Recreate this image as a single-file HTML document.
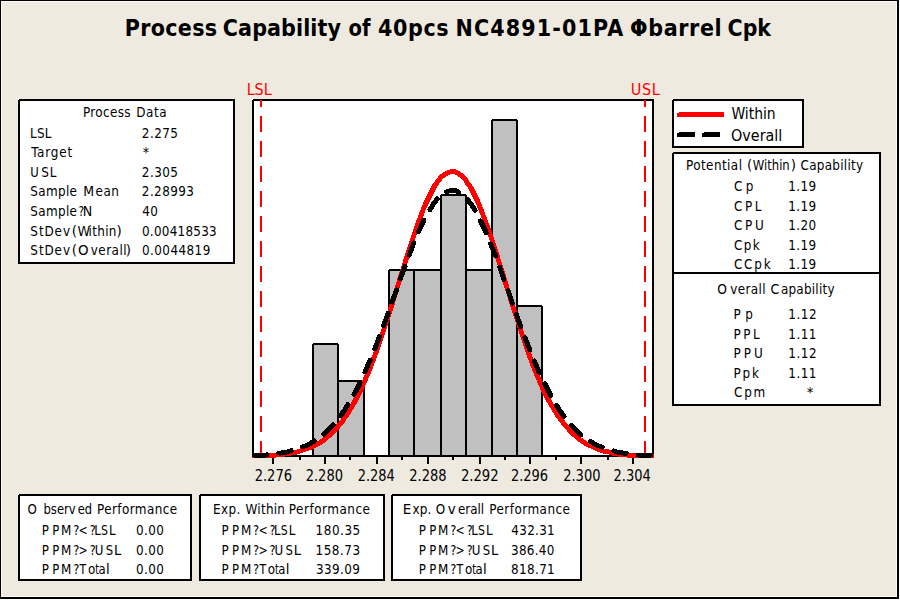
<!DOCTYPE html>
<html lang="en"><head><meta charset="utf-8"><title>Process Capability of 40pcs NC4891-01PA Φbarrel Cpk</title>
<style>html,body{margin:0;padding:0;background:#EEEAE0;overflow:hidden}svg{display:block}text{font-family:'DejaVu Sans Condensed','DejaVu Sans','Liberation Sans',sans-serif;white-space:pre}</style>
</head><body>
<svg width="900" height="600" viewBox="0 0 900 600">
<rect x="0" y="0" width="900" height="600" fill="#EEEAE0"/>
<g shape-rendering="crispEdges">
<rect x="1" y="1" width="896" height="1" fill="#FFFCF0"/>
<rect x="1" y="1" width="1" height="596" fill="#FFFCF0"/>
<rect x="1" y="596" width="896" height="1" fill="#FFFCF0"/>
<rect x="896" y="1" width="1" height="596" fill="#FFFCF0"/>
<rect x="0" y="0" width="899" height="1" fill="#000"/>
<rect x="0" y="0" width="1" height="599" fill="#000"/>
<rect x="897" y="0" width="2" height="599" fill="#000"/>
<rect x="0" y="597" width="899" height="2" fill="#000"/>
<rect x="899" y="0" width="1" height="600" fill="#fff"/>
<rect x="0" y="599" width="900" height="1" fill="#fff"/>
</g>
<text y="35.5" font-size="23" font-weight="bold"><tspan x="124.70" textLength="92.43" lengthAdjust="spacing">Process</tspan> <tspan x="222.83" textLength="118.18" lengthAdjust="spacing">Capability</tspan> <tspan x="348.51" textLength="21.95" lengthAdjust="spacingAndGlyphs">of</tspan> <tspan x="377.93" textLength="70.70" lengthAdjust="spacing">40pcs</tspan> <tspan x="455.45" textLength="167.79" lengthAdjust="spacing">NC4891-01PA</tspan> <tspan x="630.08" textLength="91.55" lengthAdjust="spacing">Φbarrel</tspan> <tspan x="727.59" textLength="43.41" lengthAdjust="spacingAndGlyphs">Cpk</tspan></text>
<g shape-rendering="crispEdges">
<rect x="253" y="100" width="400" height="356" fill="#fff" stroke="#000" stroke-width="2"/>
<rect x="313" y="344" width="25" height="112" fill="#C0C0C0" stroke="#000" stroke-width="2" stroke-linejoin="round"/>
<rect x="338" y="381" width="26" height="75" fill="#C0C0C0" stroke="#000" stroke-width="2" stroke-linejoin="round"/>
<rect x="389" y="270" width="25" height="186" fill="#C0C0C0" stroke="#000" stroke-width="2" stroke-linejoin="round"/>
<rect x="414" y="270" width="27" height="186" fill="#C0C0C0" stroke="#000" stroke-width="2" stroke-linejoin="round"/>
<rect x="441" y="195" width="25" height="261" fill="#C0C0C0" stroke="#000" stroke-width="2" stroke-linejoin="round"/>
<rect x="466" y="270" width="26" height="186" fill="#C0C0C0" stroke="#000" stroke-width="2" stroke-linejoin="round"/>
<rect x="492" y="120" width="25" height="336" fill="#C0C0C0" stroke="#000" stroke-width="2" stroke-linejoin="round"/>
<rect x="517" y="306" width="25" height="150" fill="#C0C0C0" stroke="#000" stroke-width="2" stroke-linejoin="round"/>
<rect x="312" y="343" width="1" height="1" fill="#fff"/>
<rect x="338" y="343" width="1" height="1" fill="#fff"/>
<rect x="364" y="380" width="1" height="1" fill="#fff"/>
<rect x="388" y="269" width="1" height="1" fill="#fff"/>
<rect x="440" y="194" width="1" height="1" fill="#fff"/>
<rect x="466" y="194" width="1" height="1" fill="#fff"/>
<rect x="491" y="119" width="1" height="1" fill="#fff"/>
<rect x="517" y="119" width="1" height="1" fill="#fff"/>
<rect x="542" y="305" width="1" height="1" fill="#fff"/>
<rect x="252" y="455" width="402" height="2" fill="#000"/>
<rect x="272" y="457" width="2" height="7" fill="#000"/>
<rect x="299" y="457" width="2" height="3" fill="#000"/>
<rect x="324" y="457" width="2" height="7" fill="#000"/>
<rect x="349" y="457" width="2" height="3" fill="#000"/>
<rect x="376" y="457" width="2" height="7" fill="#000"/>
<rect x="401" y="457" width="2" height="3" fill="#000"/>
<rect x="427" y="457" width="2" height="7" fill="#000"/>
<rect x="452" y="457" width="2" height="3" fill="#000"/>
<rect x="479" y="457" width="2" height="7" fill="#000"/>
<rect x="504" y="457" width="2" height="3" fill="#000"/>
<rect x="529" y="457" width="2" height="7" fill="#000"/>
<rect x="555" y="457" width="2" height="3" fill="#000"/>
<rect x="580" y="457" width="2" height="7" fill="#000"/>
<rect x="607" y="457" width="2" height="3" fill="#000"/>
<rect x="632" y="457" width="2" height="7" fill="#000"/>
</g>
<g shape-rendering="crispEdges">
<line x1="261" y1="100" x2="261" y2="457" stroke="#FF0000" stroke-width="2" stroke-dasharray="16 9" stroke-dashoffset="9"/>
<line x1="645" y1="100" x2="645" y2="457" stroke="#FF0000" stroke-width="2" stroke-dasharray="16 9" stroke-dashoffset="9"/>
</g>
<clipPath id="pc"><rect x="252" y="99" width="402" height="359"/></clipPath>
<g clip-path="url(#pc)" fill="none" shape-rendering="crispEdges">
<path d="M252,456 L255,456 L258,456 L261,456 L264,455 L267,455 L270,455 L273,455 L276,455 L279,454 L282,454 L285,454 L288,453 L291,453 L294,452 L297,452 L300,451 L303,450 L306,449 L309,448 L312,447 L315,445 L318,444 L321,442 L324,440 L327,437 L330,435 L333,432 L336,429 L339,425 L342,422 L345,417 L348,413 L351,408 L354,403 L357,397 L360,391 L363,385 L366,378 L369,371 L372,363 L375,355 L378,347 L381,338 L384,329 L387,320 L390,311 L393,301 L396,291 L399,282 L402,272 L405,263 L408,253 L411,244 L414,235 L417,226 L420,218 L423,210 L426,203 L429,197 L432,191 L435,185 L438,181 L441,177 L444,175 L447,173 L450,172 L453,171 L456,172 L459,174 L462,176 L465,179 L468,184 L471,188 L474,194 L477,200 L480,207 L483,215 L486,223 L489,231 L492,240 L495,249 L498,259 L501,268 L504,278 L507,288 L510,297 L513,307 L516,316 L519,325 L522,334 L525,343 L528,352 L531,360 L534,368 L537,375 L540,382 L543,389 L546,395 L549,401 L552,406 L555,411 L558,416 L561,420 L564,424 L567,427 L570,431 L573,434 L576,436 L579,439 L582,441 L585,443 L588,445 L591,446 L594,447 L597,449 L600,450 L603,451 L606,451 L609,452 L612,453 L615,453 L618,454 L621,454 L624,454 L627,455 L630,455 L633,455 L636,455 L639,455 L642,455 L645,456 L648,456 L651,456 L654,456" stroke="#FF0000" stroke-width="5" stroke-linejoin="round"/>
<path d="M254,455 L257,455 L260,455 L263,455 L266,455 L269,454 L272,454 L275,454 L278,453 L281,453 L284,452 L287,452 L290,451 L293,450 L296,449 L299,448 L302,447 L305,446 L308,445 L311,443 L314,441 L317,439 L320,437 L323,435 L326,432 L329,429 L332,426 L335,423 L338,419 L341,415 L344,411 L347,406 L350,401 L353,396 L356,391 L359,385 L362,379 L365,372 L368,365 L371,358 L374,351 L377,343 L380,335 L383,327 L386,319 L389,311 L392,302 L395,294 L398,286 L401,277 L404,269 L407,261 L410,253 L413,245 L416,238 L419,231 L422,224 L425,218 L428,213 L431,208 L434,203 L437,199 L440,196 L443,193 L446,192 L449,191 L452,190 L455,190 L458,192 L461,193 L464,196 L467,199 L470,203 L473,207 L476,212 L479,218 L482,224 L485,230 L488,237 L491,245 L494,252 L497,260 L500,268 L503,277 L506,285 L509,293 L512,302 L515,310 L518,319 L521,327 L524,335 L527,343 L530,350 L533,358 L536,365 L539,372 L542,378 L545,384 L548,390 L551,396 L554,401 L557,406 L560,411 L563,415 L566,419 L569,423 L572,426 L575,429 L578,432 L581,435 L584,437 L587,439 L590,441 L593,443 L596,445 L599,446 L602,447 L605,448 L608,449 L611,450 L614,451 L617,452 L620,452 L623,453 L626,453 L629,454 L632,454 L635,454 L638,455 L641,455 L644,455 L647,455 L650,455 L653,455" stroke="#000" stroke-width="5" stroke-linejoin="round" stroke-linecap="round" stroke-dasharray="13 12"/>
</g>
<text x="246.65" y="95.0" font-size="16" fill="#FF0000" textLength="25.07" lengthAdjust="spacingAndGlyphs">LSL</text>
<text x="630.80" y="95.0" font-size="16" fill="#FF0000" textLength="28.92" lengthAdjust="spacing">USL</text>
<text x="254.70" y="480.6" font-size="15" textLength="37.27" lengthAdjust="spacingAndGlyphs">2.276</text>
<text x="305.69" y="480.6" font-size="15" textLength="37.31" lengthAdjust="spacingAndGlyphs">2.280</text>
<text x="357.70" y="480.6" font-size="15" textLength="37.17" lengthAdjust="spacingAndGlyphs">2.284</text>
<text x="409.29" y="480.6" font-size="15" textLength="37.34" lengthAdjust="spacingAndGlyphs">2.288</text>
<text x="460.88" y="480.6" font-size="15" textLength="37.78" lengthAdjust="spacingAndGlyphs">2.292</text>
<text x="510.90" y="480.6" font-size="15" textLength="37.27" lengthAdjust="spacingAndGlyphs">2.296</text>
<text x="563.19" y="480.6" font-size="15" textLength="37.31" lengthAdjust="spacingAndGlyphs">2.300</text>
<text x="613.50" y="480.6" font-size="15" textLength="37.17" lengthAdjust="spacingAndGlyphs">2.304</text>
<g shape-rendering="crispEdges">
<rect x="19" y="100" width="215" height="163" fill="#fff" stroke="#000" stroke-width="2"/>
<rect x="673" y="100" width="130" height="47" fill="#fff" stroke="#000" stroke-width="2"/>
<rect x="673" y="153" width="207" height="252" fill="#fff" stroke="#000" stroke-width="2"/>
<rect x="672" y="272" width="209" height="2" fill="#000"/>
<rect x="19" y="495" width="172" height="85" fill="#fff" stroke="#000" stroke-width="2"/>
<rect x="200" y="495" width="184" height="85" fill="#fff" stroke="#000" stroke-width="2"/>
<rect x="392" y="495" width="189" height="85" fill="#fff" stroke="#000" stroke-width="2"/>
<rect x="252" y="99" width="1" height="1" fill="#FBF9F3"/>
<rect x="18" y="99" width="1" height="1" fill="#FBF9F3"/>
<rect x="672" y="99" width="1" height="1" fill="#FBF9F3"/>
<rect x="672" y="152" width="1" height="1" fill="#FBF9F3"/>
<rect x="18" y="494" width="1" height="1" fill="#FBF9F3"/>
<rect x="199" y="494" width="1" height="1" fill="#FBF9F3"/>
<rect x="391" y="494" width="1" height="1" fill="#FBF9F3"/>
</g>
<text y="116.7" font-size="13.33"><tspan x="82.88" textLength="47.65" lengthAdjust="spacing">Process</tspan> <tspan x="136.18" textLength="30.35" lengthAdjust="spacing">Data</tspan></text>
<text x="29.98" y="137.5" font-size="13.33" textLength="21.43" lengthAdjust="spacing">LSL</text>
<text x="141.87" y="137.5" font-size="13.33" textLength="36.12" lengthAdjust="spacing">2.275</text>
<text x="31.19" y="157.0" font-size="13.33" textLength="40.94" lengthAdjust="spacing">Target</text>
<text x="142.77" y="157.0" font-size="13.33" textLength="6.46" lengthAdjust="spacingAndGlyphs">*</text>
<text y="176.6" font-size="13.33"><tspan x="30.14" textLength="8.52" lengthAdjust="spacingAndGlyphs">U</tspan><tspan x="41.26" textLength="15.15" lengthAdjust="spacing">SL</tspan></text>
<text x="141.87" y="176.6" font-size="13.33" textLength="36.12" lengthAdjust="spacing">2.305</text>
<text y="196.3" font-size="13.33"><tspan x="30.36" textLength="46.63" lengthAdjust="spacing">Sample</tspan> <tspan x="83.32" textLength="10.85" lengthAdjust="spacingAndGlyphs">M</tspan><tspan x="95.49" textLength="23.47" lengthAdjust="spacing">ean</tspan></text>
<text x="141.87" y="196.3" font-size="13.33" textLength="52.03" lengthAdjust="spacing">2.28993</text>
<text y="215.7" font-size="13.33"><tspan x="30.36" textLength="46.63" lengthAdjust="spacing">Sample</tspan><tspan x="78.45" textLength="5.58" lengthAdjust="spacingAndGlyphs">?</tspan><tspan x="82.71" textLength="9.48" lengthAdjust="spacingAndGlyphs">N</tspan></text>
<text x="142.16" y="215.7" font-size="13.33" textLength="15.77" lengthAdjust="spacing">40</text>
<text y="235.5" font-size="13.33"><tspan x="30.36" textLength="39.64" lengthAdjust="spacing">StDev</tspan><tspan x="71.69" textLength="5.24" lengthAdjust="spacingAndGlyphs">(</tspan><tspan x="77.43" textLength="12.63" lengthAdjust="spacingAndGlyphs">W</tspan><tspan x="88.62" textLength="27.84" lengthAdjust="spacing">ithin</tspan><tspan x="116.47" textLength="5.24" lengthAdjust="spacingAndGlyphs">)</tspan></text>
<text x="141.96" y="235.5" font-size="13.33" textLength="74.74" lengthAdjust="spacing">0.00418533</text>
<text y="255.2" font-size="13.33"><tspan x="30.36" textLength="39.64" lengthAdjust="spacing">StDev</tspan><tspan x="71.69" textLength="5.24" lengthAdjust="spacingAndGlyphs">(</tspan><tspan x="78.01" textLength="10.57" lengthAdjust="spacingAndGlyphs">O</tspan><tspan x="90.80" textLength="35.77" lengthAdjust="spacing">verall</tspan><tspan x="125.67" textLength="5.24" lengthAdjust="spacingAndGlyphs">)</tspan></text>
<text x="141.96" y="255.2" font-size="13.33" textLength="68.32" lengthAdjust="spacing">0.0044819</text>
<g shape-rendering="crispEdges">
<polygon points="677,113 679,113 679,112 724,112 724,117 677,117" fill="#FF0000"/>
<polygon points="677,133 679,133 679,132 695,132 695,137 677,137" fill="#000"/>
<polygon points="702,133 704,133 704,132 720,132 720,137 702,137" fill="#000"/>
</g>
<text x="731.39" y="118.7" font-size="16" textLength="44.34" lengthAdjust="spacingAndGlyphs">Within</text>
<text x="731.05" y="140.6" font-size="16" textLength="51.24" lengthAdjust="spacingAndGlyphs">Overall</text>
<text y="170.1" font-size="13.33"><tspan x="685.98" textLength="55.99" lengthAdjust="spacing">Potential</tspan> <tspan x="747.04" textLength="5.24" lengthAdjust="spacingAndGlyphs">(</tspan><tspan x="752.77" textLength="36.97" lengthAdjust="spacingAndGlyphs">Within</tspan><tspan x="790.87" textLength="5.24" lengthAdjust="spacingAndGlyphs">)</tspan> <tspan x="800.48" textLength="62.72" lengthAdjust="spacing">Capability</tspan></text>
<text x="733.98" y="190.8" font-size="13.33" textLength="19.32" lengthAdjust="spacing">Cp</text>
<text x="788.34" y="190.8" font-size="13.33" textLength="27.85" lengthAdjust="spacing">1.19</text>
<text x="733.98" y="210.5" font-size="13.33" textLength="27.53" lengthAdjust="spacing">CPL</text>
<text x="788.34" y="210.5" font-size="13.33" textLength="27.85" lengthAdjust="spacing">1.19</text>
<text x="733.98" y="230.1" font-size="13.33" textLength="29.91" lengthAdjust="spacing">CPU</text>
<text x="788.34" y="230.1" font-size="13.33" textLength="27.80" lengthAdjust="spacing">1.20</text>
<text x="733.98" y="249.8" font-size="13.33" textLength="25.60" lengthAdjust="spacing">Cpk</text>
<text x="788.34" y="249.8" font-size="13.33" textLength="27.85" lengthAdjust="spacing">1.19</text>
<text x="733.98" y="269.4" font-size="13.33" textLength="36.60" lengthAdjust="spacing">CCpk</text>
<text x="788.34" y="269.4" font-size="13.33" textLength="27.85" lengthAdjust="spacing">1.19</text>
<text y="293.9" font-size="13.33"><tspan x="717.16" textLength="9.67" lengthAdjust="spacingAndGlyphs">O</tspan><tspan x="730.30" textLength="35.27" lengthAdjust="spacing">verall</tspan> <tspan x="770.44" textLength="8.90" lengthAdjust="spacingAndGlyphs">C</tspan><tspan x="780.93" textLength="53.57" lengthAdjust="spacing">apability</tspan></text>
<text x="733.48" y="319.0" font-size="13.33" textLength="19.32" lengthAdjust="spacing">Pp</text>
<text x="788.34" y="319.0" font-size="13.33" textLength="28.21" lengthAdjust="spacing">1.12</text>
<text x="733.48" y="338.6" font-size="13.33" textLength="26.13" lengthAdjust="spacing">PPL</text>
<text x="788.34" y="338.6" font-size="13.33" textLength="28.11" lengthAdjust="spacing">1.11</text>
<text x="733.48" y="358.1" font-size="13.33" textLength="29.31" lengthAdjust="spacing">PPU</text>
<text x="788.34" y="358.1" font-size="13.33" textLength="28.21" lengthAdjust="spacing">1.12</text>
<text x="733.48" y="377.6" font-size="13.33" textLength="25.50" lengthAdjust="spacing">Ppk</text>
<text x="788.34" y="377.6" font-size="13.33" textLength="28.11" lengthAdjust="spacing">1.11</text>
<text x="733.98" y="397.2" font-size="13.33" textLength="31.29" lengthAdjust="spacing">Cpm</text>
<text x="806.69" y="396.6" font-size="13.33" textLength="6.71" lengthAdjust="spacingAndGlyphs">*</text>
<text y="513.9" font-size="13.33"><tspan x="27.59" textLength="9.32" lengthAdjust="spacingAndGlyphs">O</tspan><tspan x="43.50" textLength="32.19" lengthAdjust="spacingAndGlyphs">bserv</tspan><tspan x="77.72" textLength="14.37" lengthAdjust="spacingAndGlyphs">ed</tspan> <tspan x="96.98" textLength="80.11" lengthAdjust="spacing">Performance</tspan></text>
<text y="535.1" font-size="13.33"><tspan x="41.79" textLength="7.16" lengthAdjust="spacingAndGlyphs">P</tspan><tspan x="52.21" textLength="7.03" lengthAdjust="spacingAndGlyphs">P</tspan><tspan x="61.08" textLength="10.33" lengthAdjust="spacingAndGlyphs">M</tspan><tspan x="73.27" textLength="6.13" lengthAdjust="spacingAndGlyphs">?</tspan><tspan x="78.59" textLength="9.22" lengthAdjust="spacingAndGlyphs">&lt;</tspan><tspan x="89.79" textLength="5.99" lengthAdjust="spacingAndGlyphs">?</tspan><tspan x="94.16" textLength="6.50" lengthAdjust="spacingAndGlyphs">L</tspan><tspan x="100.93" textLength="6.92" lengthAdjust="spacingAndGlyphs">S</tspan><tspan x="108.89" textLength="6.62" lengthAdjust="spacingAndGlyphs">L</tspan></text>
<text x="135.96" y="535.1" font-size="13.33" textLength="27.98" lengthAdjust="spacing">0.00</text>
<text y="554.5" font-size="13.33"><tspan x="41.79" textLength="7.16" lengthAdjust="spacingAndGlyphs">P</tspan><tspan x="52.21" textLength="7.03" lengthAdjust="spacingAndGlyphs">P</tspan><tspan x="61.08" textLength="10.33" lengthAdjust="spacingAndGlyphs">M</tspan><tspan x="73.27" textLength="6.13" lengthAdjust="spacingAndGlyphs">?</tspan><tspan x="78.59" textLength="9.22" lengthAdjust="spacingAndGlyphs">&gt;</tspan><tspan x="89.79" textLength="5.99" lengthAdjust="spacingAndGlyphs">?</tspan><tspan x="94.82" textLength="8.65" lengthAdjust="spacingAndGlyphs">U</tspan><tspan x="105.68" textLength="7.41" lengthAdjust="spacingAndGlyphs">S</tspan><tspan x="113.93" textLength="7.23" lengthAdjust="spacingAndGlyphs">L</tspan></text>
<text x="135.96" y="554.5" font-size="13.33" textLength="27.98" lengthAdjust="spacing">0.00</text>
<text y="573.9" font-size="13.33"><tspan x="41.79" textLength="7.16" lengthAdjust="spacingAndGlyphs">P</tspan><tspan x="52.21" textLength="7.03" lengthAdjust="spacingAndGlyphs">P</tspan><tspan x="61.08" textLength="10.33" lengthAdjust="spacingAndGlyphs">M</tspan><tspan x="73.27" textLength="6.13" lengthAdjust="spacingAndGlyphs">?</tspan><tspan x="79.59" textLength="6.72" lengthAdjust="spacingAndGlyphs">T</tspan><tspan x="88.00" textLength="7.30" lengthAdjust="spacingAndGlyphs">o</tspan><tspan x="95.15" textLength="3.67" lengthAdjust="spacingAndGlyphs">t</tspan><tspan x="98.55" textLength="7.15" lengthAdjust="spacingAndGlyphs">a</tspan><tspan x="105.93" textLength="3.73" lengthAdjust="spacingAndGlyphs">l</tspan></text>
<text x="135.96" y="573.9" font-size="13.33" textLength="27.98" lengthAdjust="spacing">0.00</text>
<text y="513.9" font-size="13.33"><tspan x="213.08" textLength="27.26" lengthAdjust="spacing">Exp.</tspan> <tspan x="245.55" textLength="39.41" lengthAdjust="spacing">Within</tspan> <tspan x="288.78" textLength="81.21" lengthAdjust="spacing">Performance</tspan></text>
<text y="535.1" font-size="13.33"><tspan x="221.59" textLength="7.16" lengthAdjust="spacingAndGlyphs">P</tspan><tspan x="232.01" textLength="7.03" lengthAdjust="spacingAndGlyphs">P</tspan><tspan x="240.88" textLength="10.33" lengthAdjust="spacingAndGlyphs">M</tspan><tspan x="253.07" textLength="6.13" lengthAdjust="spacingAndGlyphs">?</tspan><tspan x="258.39" textLength="9.22" lengthAdjust="spacingAndGlyphs">&lt;</tspan><tspan x="269.59" textLength="5.99" lengthAdjust="spacingAndGlyphs">?</tspan><tspan x="273.96" textLength="6.50" lengthAdjust="spacingAndGlyphs">L</tspan><tspan x="280.73" textLength="6.92" lengthAdjust="spacingAndGlyphs">S</tspan><tspan x="288.69" textLength="6.62" lengthAdjust="spacingAndGlyphs">L</tspan></text>
<text x="315.54" y="535.1" font-size="13.33" textLength="44.66" lengthAdjust="spacing">180.35</text>
<text y="554.5" font-size="13.33"><tspan x="221.59" textLength="7.16" lengthAdjust="spacingAndGlyphs">P</tspan><tspan x="232.01" textLength="7.03" lengthAdjust="spacingAndGlyphs">P</tspan><tspan x="240.88" textLength="10.33" lengthAdjust="spacingAndGlyphs">M</tspan><tspan x="253.07" textLength="6.13" lengthAdjust="spacingAndGlyphs">?</tspan><tspan x="258.39" textLength="9.22" lengthAdjust="spacingAndGlyphs">&gt;</tspan><tspan x="269.59" textLength="5.99" lengthAdjust="spacingAndGlyphs">?</tspan><tspan x="274.62" textLength="8.65" lengthAdjust="spacingAndGlyphs">U</tspan><tspan x="285.48" textLength="7.41" lengthAdjust="spacingAndGlyphs">S</tspan><tspan x="293.73" textLength="7.23" lengthAdjust="spacingAndGlyphs">L</tspan></text>
<text x="315.54" y="554.5" font-size="13.33" textLength="44.57" lengthAdjust="spacing">158.73</text>
<text y="573.9" font-size="13.33"><tspan x="221.59" textLength="7.16" lengthAdjust="spacingAndGlyphs">P</tspan><tspan x="232.01" textLength="7.03" lengthAdjust="spacingAndGlyphs">P</tspan><tspan x="240.88" textLength="10.33" lengthAdjust="spacingAndGlyphs">M</tspan><tspan x="253.07" textLength="6.13" lengthAdjust="spacingAndGlyphs">?</tspan><tspan x="259.39" textLength="6.72" lengthAdjust="spacingAndGlyphs">T</tspan><tspan x="267.80" textLength="7.30" lengthAdjust="spacingAndGlyphs">o</tspan><tspan x="274.95" textLength="3.67" lengthAdjust="spacingAndGlyphs">t</tspan><tspan x="278.35" textLength="7.15" lengthAdjust="spacingAndGlyphs">a</tspan><tspan x="285.73" textLength="3.73" lengthAdjust="spacingAndGlyphs">l</tspan></text>
<text x="315.94" y="573.9" font-size="13.33" textLength="44.04" lengthAdjust="spacing">339.09</text>
<text y="513.9" font-size="13.33"><tspan x="402.83" textLength="8.49" lengthAdjust="spacingAndGlyphs">E</tspan><tspan x="412.51" textLength="18.83" lengthAdjust="spacing">xp.</tspan> <tspan x="435.78" textLength="9.43" lengthAdjust="spacingAndGlyphs">O</tspan><tspan x="447.88" textLength="7.95" lengthAdjust="spacingAndGlyphs">v</tspan><tspan x="458.00" textLength="26.17" lengthAdjust="spacingAndGlyphs">erall</tspan> <tspan x="489.18" textLength="80.81" lengthAdjust="spacing">Performance</tspan></text>
<text y="535.1" font-size="13.33"><tspan x="418.79" textLength="7.16" lengthAdjust="spacingAndGlyphs">P</tspan><tspan x="429.21" textLength="7.03" lengthAdjust="spacingAndGlyphs">P</tspan><tspan x="438.08" textLength="10.33" lengthAdjust="spacingAndGlyphs">M</tspan><tspan x="450.27" textLength="6.13" lengthAdjust="spacingAndGlyphs">?</tspan><tspan x="455.59" textLength="9.22" lengthAdjust="spacingAndGlyphs">&lt;</tspan><tspan x="466.79" textLength="5.99" lengthAdjust="spacingAndGlyphs">?</tspan><tspan x="471.16" textLength="6.50" lengthAdjust="spacingAndGlyphs">L</tspan><tspan x="477.93" textLength="6.92" lengthAdjust="spacingAndGlyphs">S</tspan><tspan x="485.89" textLength="6.62" lengthAdjust="spacingAndGlyphs">L</tspan></text>
<text x="511.26" y="535.1" font-size="13.33" textLength="43.49" lengthAdjust="spacing">432.31</text>
<text y="554.5" font-size="13.33"><tspan x="418.79" textLength="7.16" lengthAdjust="spacingAndGlyphs">P</tspan><tspan x="429.21" textLength="7.03" lengthAdjust="spacingAndGlyphs">P</tspan><tspan x="438.08" textLength="10.33" lengthAdjust="spacingAndGlyphs">M</tspan><tspan x="450.27" textLength="6.13" lengthAdjust="spacingAndGlyphs">?</tspan><tspan x="455.59" textLength="9.22" lengthAdjust="spacingAndGlyphs">&gt;</tspan><tspan x="466.79" textLength="5.99" lengthAdjust="spacingAndGlyphs">?</tspan><tspan x="471.82" textLength="8.65" lengthAdjust="spacingAndGlyphs">U</tspan><tspan x="482.68" textLength="7.41" lengthAdjust="spacingAndGlyphs">S</tspan><tspan x="490.93" textLength="7.23" lengthAdjust="spacingAndGlyphs">L</tspan></text>
<text x="510.94" y="554.5" font-size="13.33" textLength="43.50" lengthAdjust="spacing">386.40</text>
<text y="573.9" font-size="13.33"><tspan x="418.79" textLength="7.16" lengthAdjust="spacingAndGlyphs">P</tspan><tspan x="429.21" textLength="7.03" lengthAdjust="spacingAndGlyphs">P</tspan><tspan x="438.08" textLength="10.33" lengthAdjust="spacingAndGlyphs">M</tspan><tspan x="450.27" textLength="6.13" lengthAdjust="spacingAndGlyphs">?</tspan><tspan x="456.59" textLength="6.72" lengthAdjust="spacingAndGlyphs">T</tspan><tspan x="465.00" textLength="7.30" lengthAdjust="spacingAndGlyphs">o</tspan><tspan x="472.15" textLength="3.67" lengthAdjust="spacingAndGlyphs">t</tspan><tspan x="475.55" textLength="7.15" lengthAdjust="spacingAndGlyphs">a</tspan><tspan x="482.93" textLength="3.73" lengthAdjust="spacingAndGlyphs">l</tspan></text>
<text x="511.04" y="573.9" font-size="13.33" textLength="43.71" lengthAdjust="spacing">818.71</text>
</svg></body></html>
